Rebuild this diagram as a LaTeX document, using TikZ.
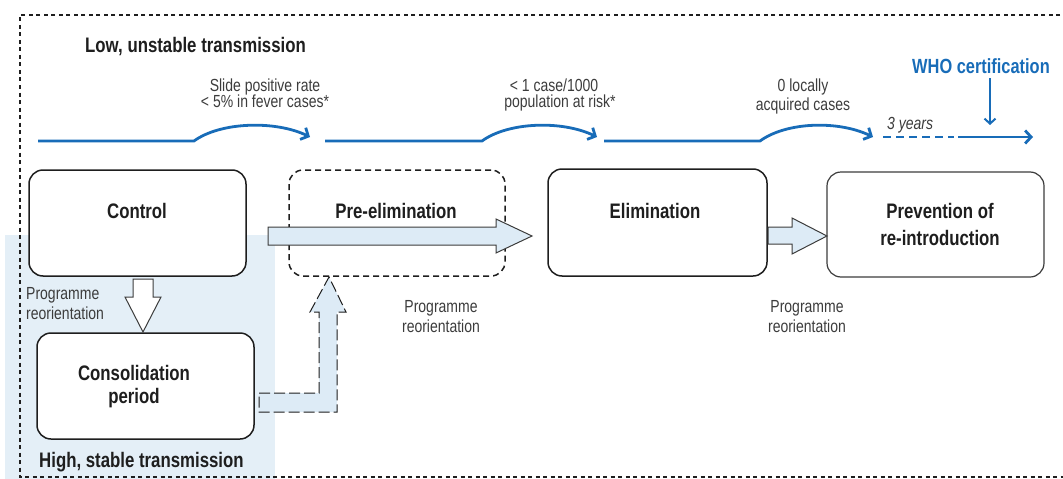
\documentclass[tikz,border=0pt]{standalone}
\usepackage{fontspec}
\setmainfont{Liberation Sans}[FakeStretch=0.8]
\usetikzlibrary{arrows.meta}
\definecolor{whoblue}{RGB}{24,108,184}
\definecolor{regionblue}{RGB}{228,239,247}
\definecolor{arrowfill}{RGB}{221,235,246}
\definecolor{inkdark}{RGB}{30,30,30}
\definecolor{inkgrey}{RGB}{60,60,60}
\begin{document}
\begin{tikzpicture}[x=1pt,y=-1pt,
  stagebox/.style={draw=inkdark, line width=1.5pt, rounded corners=14pt, fill=white, inner sep=0pt},
  bigtxt/.style={anchor=base, inner sep=0pt, text=inkdark, font=\fontsize{21}{25}\selectfont\bfseries},
  smalltxt/.style={anchor=base, inner sep=0pt, text=inkgrey, font=\fontsize{17.5}{20}\selectfont},
  timeline/.style={draw=whoblue, line width=2.8pt, -{Straight Barb[length=6pt,width=13pt]}},
  blockarrow/.style={draw=inkgrey, line width=1pt, fill=arrowfill, line join=miter},
  outerframe/.style={draw=inkdark, line width=1.2pt, dash pattern=on 4pt off 3.5pt}
]
\useasboundingbox (0,0) rectangle (1063,479);
% high-transmission region
\fill[regionblue] (5,235) rectangle (275,479);
% outer frame
\draw[outerframe] (1075,15) -- (20,15) -- (20,477) -- (1075,477);

% stage boxes
\node[stagebox, minimum width=217pt, minimum height=106pt] (control) at (137.5,223) {};
\node[stagebox, dash pattern=on 6pt off 4pt, minimum width=216pt, minimum height=106pt] (preelim) at (397,223) {};
\node[stagebox, minimum width=219pt, minimum height=107pt] (elim) at (657.5,222.5) {};
\node[stagebox, draw=inkgrey, line width=1.2pt, minimum width=217pt, minimum height=105pt] (prev) at (935.5,224.5) {};
\node[stagebox, minimum width=217pt, minimum height=106pt] (consol) at (145.5,386) {};

% block arrows
\draw[blockarrow] (268,227) -- (496,227) -- (496,219) -- (532,236) -- (496,253) -- (496,245) -- (268,245) -- cycle;
\draw[blockarrow, fill=white] (133,279) -- (153,279) -- (153,297) -- (161,297) -- (143,332) -- (125,297) -- (133,297) -- cycle;
\draw[blockarrow] (768,227) -- (792,227) -- (792,218) -- (827,236) -- (792,254) -- (792,244) -- (768,244) -- cycle;
\draw[blockarrow, draw=inkdark, dash pattern=on 11pt off 4pt] (259,393) -- (319,393) -- (319,312) -- (310,312) -- (329,277) -- (346,312) -- (337,312) -- (337,412) -- (259,412) -- cycle;

% stage labels
\node[bigtxt] (tcontrol) at (137,218) {Control};
\node[bigtxt] (tpre) at (396,218) {Pre-elimination};
\node[bigtxt] (telim) at (655,218) {Elimination};
\node[bigtxt] (tprev1) at (940,218) {Prevention of};
\node[bigtxt] (tprev2) at (940,245) {re-introduction};
\node[bigtxt] (tcons1) at (134,380) {Consolidation};
\node[bigtxt] (tcons2) at (134,403) {period};
\node[bigtxt, anchor=base west] (low) at (85,52.5) {Low, unstable transmission};
\node[bigtxt, anchor=base west] (high) at (39,467) {High, stable transmission};

% programme reorientation labels
\node[smalltxt, anchor=base west] (pr1a) at (26,299) {Programme};
\node[smalltxt, anchor=base west] (pr1b) at (26,319) {reorientation};
\node[smalltxt] (pr2a) at (441,312) {Programme};
\node[smalltxt] (pr2b) at (441,332) {reorientation};
\node[smalltxt] (pr3a) at (807,312) {Programme};
\node[smalltxt] (pr3b) at (807,332) {reorientation};

% timeline
\coordinate (a0) at (38,141); \coordinate (a1) at (194,141); \coordinate (a2) at (310,137);
\coordinate (b0) at (325,141); \coordinate (b1) at (482,141); \coordinate (b2) at (597,137);
\coordinate (c0) at (604,141); \coordinate (c1) at (760,141); \coordinate (c2) at (873,137);
\coordinate (d0) at (883,137); \coordinate (d1) at (954,137);
\coordinate (e0) at (958,137); \coordinate (e1) at (1033,137);
\draw[timeline] (a0) -- (a1) .. controls +(26,-19) and +(-35,-17) .. (a2);
\draw[timeline] (b0) -- (b1) .. controls +(26,-19) and +(-35,-17) .. (b2);
\draw[timeline] (c0) -- (c1) .. controls +(26,-19) and +(-35,-17) .. (c2);
\draw[draw=whoblue, line width=2.8pt, dash pattern=on 8pt off 5pt] (d0) -- (d1);
\draw[timeline] (e0) -- (e1);

\node[smalltxt] (s1a) at (265,91) {Slide positive rate};
\node[smalltxt] (s1b) at (265,107) {< 5\% in fever cases*};
\node[smalltxt] (s2a) at (554,91) {< 1 case/1000};
\node[smalltxt] (s2b) at (560,107) {population at risk*};
\node[smalltxt] (s3a) at (803,91) {0 locally};
\node[smalltxt] (s3b) at (803,110) {acquired cases};
\node[smalltxt, anchor=base west, font=\fontsize{17.5}{20}\selectfont\itshape] (yrs) at (887,129) {3 years};
\node[bigtxt, anchor=base west, text=whoblue, font=\fontsize{20.5}{24}\selectfont\bfseries] (who) at (912,73) {WHO certification};
\coordinate (whotip) at (990,125);
\draw[draw=whoblue, line width=2pt, -{Straight Barb[length=5pt,width=11pt]}] (who.south -| whotip) ++(0,5) -- (whotip);
\end{tikzpicture}
\end{document}
